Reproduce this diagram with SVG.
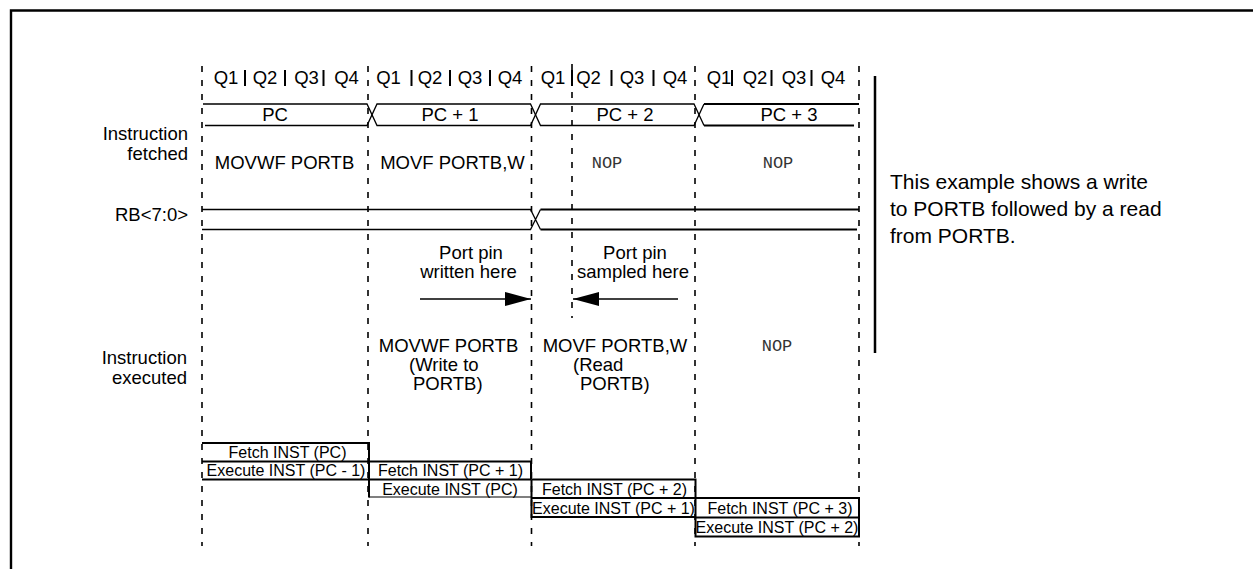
<svg xmlns="http://www.w3.org/2000/svg" width="1253" height="569" viewBox="0 0 1253 569">
<style>
.t{font-family:"Liberation Sans",Arial,Helvetica,sans-serif;font-size:18.5px;fill:#000}
.m{text-anchor:middle}
.e{text-anchor:end}
.b{font-family:"Liberation Sans",Arial,Helvetica,sans-serif;font-size:16px;fill:#000;text-anchor:middle}
.n{font-family:"Liberation Mono","Courier New",monospace;font-size:17px;fill:#333;text-anchor:middle}
.r{font-family:"Liberation Sans",Arial,Helvetica,sans-serif;font-size:21px;fill:#000}
.dash{stroke:#000;stroke-width:1.6;stroke-dasharray:6 8;fill:none}
.sep{stroke:#000;stroke-width:2}
.thin{stroke:#000;stroke-width:1.3;fill:none}
.thick{stroke:#000;stroke-width:2;fill:none}
.box{stroke:#000;stroke-width:2;fill:none}
</style>
<defs>
<marker id="ah" markerWidth="26" markerHeight="14" refX="26" refY="7" orient="auto" markerUnits="userSpaceOnUse">
<polygon points="0,0 26,7 0,14" fill="#000"/>
</marker>
</defs>

<!-- frame -->
<path d="M11,569 V10.5 H1253" fill="none" stroke="#000" stroke-width="2.4"/>

<!-- cycle grid -->
<g id="grid">
<line class="dash" x1="202" y1="66" x2="202" y2="546"/>
<line class="dash" x1="368" y1="66" x2="368" y2="546"/>
<line class="dash" x1="531.5" y1="66" x2="531.5" y2="546"/>
<line class="dash" x1="572" y1="64" x2="572" y2="318"/>
<line class="dash" x1="695" y1="66" x2="695" y2="546"/>
<line class="dash" x1="859" y1="66" x2="859" y2="546"/>
</g>

<!-- quarter labels -->
<g id="quarters">
<text class="t m" x="226" y="84">Q1</text>
<text class="t m" x="265" y="84">Q2</text>
<text class="t m" x="306.5" y="84">Q3</text>
<text class="t m" x="346.5" y="84">Q4</text>
<text class="t m" x="388.5" y="84">Q1</text>
<text class="t m" x="430" y="84">Q2</text>
<text class="t m" x="470" y="84">Q3</text>
<text class="t m" x="510" y="84">Q4</text>
<text class="t m" x="553" y="84">Q1</text>
<text class="t m" x="588.5" y="84">Q2</text>
<text class="t m" x="632" y="84">Q3</text>
<text class="t m" x="675" y="84">Q4</text>
<text class="t m" x="719" y="84">Q1</text>
<text class="t m" x="755" y="84">Q2</text>
<text class="t m" x="794" y="84">Q3</text>
<text class="t m" x="833" y="84">Q4</text>
<g class="sep">
<line x1="245" y1="70" x2="245" y2="86"/>
<line x1="285" y1="70" x2="285" y2="86"/>
<line x1="323.5" y1="70" x2="323.5" y2="86"/>
<line x1="411.5" y1="70" x2="411.5" y2="86"/>
<line x1="450" y1="70" x2="450" y2="86"/>
<line x1="490" y1="70" x2="490" y2="86"/>
<line x1="572" y1="70" x2="572" y2="86"/>
<line x1="611.5" y1="70" x2="611.5" y2="86"/>
<line x1="653.5" y1="70" x2="653.5" y2="86"/>
<line x1="732" y1="70" x2="732" y2="86"/>
<line x1="771.5" y1="70" x2="771.5" y2="86"/>
<line x1="811.5" y1="70" x2="811.5" y2="86"/>
</g>
</g>

<!-- PC bus -->
<g id="pc-bus">
<path class="thin" d="M203,104 H367 L377,125.5 H530.5 L540.5,104 H694 L704,125.5"/>
<path class="thin" d="M205,125.5 H367 L377,104 H530.5 L540.5,125.5 H694 L704,104"/>
<path class="thick" d="M704,104 H859 M704,125.5 H854"/>
<text class="t m" x="275" y="121">PC</text>
<text class="t m" x="450" y="121">PC + 1</text>
<text class="t m" x="625" y="121">PC + 2</text>
<text class="t m" x="789" y="121">PC + 3</text>
</g>

<!-- Instruction fetched -->
<g id="fetched">
<text class="t e" x="188" y="140">Instruction</text>
<text class="t e" x="188" y="160">fetched</text>
<text class="t m" x="284.5" y="169">MOVWF PORTB</text>
<text class="t m" x="452.5" y="169">MOVF PORTB,W</text>
<text class="n" x="607" y="168">NOP</text>
<text class="n" x="778" y="168">NOP</text>
</g>

<!-- RB bus -->
<g id="rb-bus">
<text class="t e" x="188" y="221">RB&lt;7:0&gt;</text>
<path class="thin" d="M202,209.5 H530.5 L540.5,229.5 M202,229.5 H530.5 L540.5,209.5"/>
<path class="thick" d="M540.5,209.5 H859 M540.5,229.5 H857"/>
</g>

<!-- port pin annotations -->
<g id="written">
<text class="t m" x="471" y="259">Port pin</text>
<text class="t m" x="468.5" y="278">written here</text>
</g>
<g id="sampled">
<text class="t m" x="635" y="259">Port pin</text>
<text class="t m" x="633" y="278">sampled here</text>
</g>
<g id="connectors">
<line x1="420" y1="299" x2="531" y2="299" stroke="#000" stroke-width="1.5" marker-end="url(#ah)"/>
<line x1="678" y1="299" x2="573" y2="299" stroke="#000" stroke-width="1.5" marker-end="url(#ah)"/>
</g>

<!-- Instruction executed -->
<g id="executed">
<text class="t e" x="187" y="364">Instruction</text>
<text class="t e" x="187" y="384">executed</text>
<text class="t m" x="448.5" y="352">MOVWF PORTB</text>
<text class="t" x="409" y="371">(Write to</text>
<text class="t" x="413" y="390">PORTB)</text>
<text class="t m" x="615" y="352">MOVF PORTB,W</text>
<text class="t" x="573" y="371">(Read</text>
<text class="t" x="580" y="390">PORTB)</text>
<text class="n" x="777" y="351">NOP</text>
</g>

<!-- note -->
<g id="note">
<line x1="875" y1="76" x2="875" y2="353" stroke="#000" stroke-width="2.5"/>
<text class="r" x="890" y="189">This example shows a write</text>
<text class="r" x="890" y="216">to PORTB followed by a read</text>
<text class="r" x="890" y="243">from PORTB.</text>
</g>

<!-- pipeline -->
<g id="pipe1">
<path class="box" d="M202,443 H369 V479.5 H202 M202,461.5 H369"/>
<text class="b" x="287.5" y="457.5">Fetch INST (PC)</text>
<text class="b" x="286" y="476">Execute INST (PC - 1)</text>
</g>
<g id="pipe2">
<path class="box" d="M369,461.5 H531 V479.5 M369,461.5 V497.5"/>
<line x1="369" y1="479.5" x2="531" y2="479.5" stroke="#000" stroke-width="2"/>
<line x1="369" y1="497" x2="531" y2="497" stroke="#000" stroke-width="1.2"/>
<text class="b" x="450.5" y="476">Fetch INST (PC + 1)</text>
<text class="b" x="450" y="494.5">Execute INST (PC)</text>
</g>
<g id="pipe3">
<path class="box" d="M531.5,479.5 H695.5 V498 M531.5,479.5 V517 H695.5 M531.5,498 H695.5"/>
<text class="b" x="614.5" y="494.5">Fetch INST (PC + 2)</text>
<text class="b" x="613.5" y="513.5">Execute INST (PC + 1)</text>
</g>
<g id="pipe4">
<path class="box" d="M695.5,498 H859 V536.5 H695.5 V498 M695.5,517.5 H859"/>
<text class="b" x="780" y="513.5">Fetch INST (PC + 3)</text>
<text class="b" x="777" y="532.5">Execute INST (PC + 2)</text>
</g>
</svg>
